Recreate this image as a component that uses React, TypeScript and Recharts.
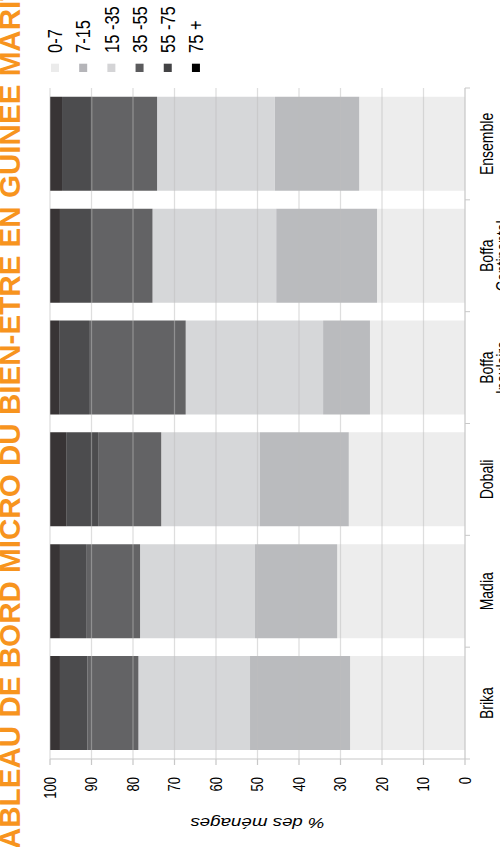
import React from 'react';
import { BarChart, Bar, XAxis, YAxis, ReferenceLine, Label } from 'recharts';

// ---- data ----
const categories = ['Brika', 'Madia', 'Dobali', 'Boffa Insulaire', 'Boffa Continental', 'Ensemble'];
const age0to7 = [27.7, 30.8, 28.0, 22.9, 21.2, 25.5];
const age7to15 = [24.1, 19.8, 21.4, 11.3, 24.3, 20.3];
const age15to35 = [26.9, 27.7, 23.8, 33.1, 29.8, 28.4];
const age35to55 = [12.3, 13.0, 15.2, 23.3, 14.4, 15.5];
const age55to75 = [6.6, 6.3, 7.7, 7.2, 7.9, 7.4];
const age75plus = [2.4, 2.4, 3.9, 2.2, 2.4, 2.9];
const seriesLabels = ['0-7', '7-15', '15 -35', '35 -55', '55 -75', '75 +'];
const valueTicks = [0, 10, 20, 30, 40, 50, 60, 70, 80, 90, 100];
const titleText = 'TABLEAU DE BORD MICRO DU BIEN-ETRE EN GUINEE MARITIME';
const yAxisTitle = '% des ménages';

const seriesValues = [age0to7, age7to15, age15to35, age35to55, age55to75, age75plus];
const seriesKeys = ['a0', 'a1', 'a2', 'a3', 'a4', 'a5'];
const barColors = ['#ededed', '#babbbe', '#d6d7d9', '#636365', '#4c4c4e', '#383435'];
const legendColors = ['#ebebeb', '#b5b5b9', '#d4d4d6', '#5b5b5d', '#434345', '#000000'];

const data = categories.map((name, i) => {
  const row: any = { name };
  seriesKeys.forEach((k, s) => {
    row[k] = seriesValues[s][i];
  });
  return row;
});

const W = 847;
const H = 400;
const STRETCH = 1.25;
const FONT = '"Liberation Sans", Arial, Helvetica, sans-serif';
const AXIS = '#c8c8c8';

function CategoryTick(props: any) {
  const { x, y, payload, index, visibleTicksCount } = props;
  const half = payload && typeof payload.offset === 'number' && payload.offset > 0 ? payload.offset : 55.9;
  const words = String(payload.value).split(' ');
  const last = index === (visibleTicksCount ?? categories.length) - 1;
  return (
    <g>
      <line x1={x - half} x2={x - half} y1={y} y2={y + 4} stroke={AXIS} />
      {last && <line x1={x + half} x2={x + half} y1={y} y2={y + 4} stroke={AXIS} />}
      <text x={x} y={y + 22.4} textAnchor="middle" fontSize={14} fill="#000">
        {words.map((w, i) => (
          <tspan key={i} x={x} dy={i === 0 ? 0 : 12.8}>
            {w}
          </tspan>
        ))}
      </text>
    </g>
  );
}

function YTitle(props: any) {
  const vb = props.viewBox || {};
  const cy = (vb.y ?? 40) + (vb.height ?? 332) / 2;
  const cx = 24.5;
  return (
    <text
      x={cx}
      y={cy}
      transform={`rotate(-90 ${cx} ${cy})`}
      textAnchor="middle"
      dominantBaseline="central"
      fontSize={15}
      fontStyle="italic"
      fill="#000"
    >
      {yAxisTitle}
    </text>
  );
}

export default function App() {
  return (
    <div
      style={{
        position: 'absolute',
        left: 0,
        top: 0,
        width: 500,
        height: 847,
        overflow: 'hidden',
        background: '#fff',
      }}
    >
      <div
        style={{
          position: 'absolute',
          left: 0,
          top: 0,
          width: W,
          height: H,
          transformOrigin: '0 0',
          transform: `translate(0px, 847px) rotate(-90deg) scale(1, ${STRETCH})`,
          fontFamily: FONT,
        }}
      >
        <BarChart
          width={W}
          height={H}
          data={data}
          margin={{ top: 40, right: 88, bottom: 0, left: 0 }}
          barCategoryGap={9}
        >
          {seriesKeys.map((k, i) => (
            <Bar key={k} dataKey={k} stackId="s" fill={barColors[i]} isAnimationActive={false} />
          ))}
          <XAxis
            dataKey="name"
            interval={0}
            tickLine={false}
            tickSize={0}
            tickMargin={0}
            height={28}
            axisLine={{ stroke: AXIS }}
            tick={<CategoryTick />}
          />
          <YAxis
            type="number"
            domain={[0, 100]}
            ticks={valueTicks}
            interval={0}
            width={88}
            tickSize={6}
            tickMargin={12}
            axisLine={{ stroke: AXIS }}
            tickLine={{ stroke: AXIS }}
            tick={{ fontSize: 13, fill: '#000' }}
          >
            <Label content={YTitle} />
          </YAxis>
          {valueTicks
            .filter((v) => v > 0)
            .map((v) => (
              <ReferenceLine key={v} y={v} stroke="#bdbdbd" strokeOpacity={0.5} />
            ))}
        </BarChart>
        <svg
          width={W}
          height={H}
          style={{ position: 'absolute', left: 0, top: 0, overflow: 'visible', pointerEvents: 'none' }}
        >
          <text
            x={-18}
            y={20}
            transform={`scale(1, ${1 / STRETCH})`}
            fontSize={29.6}
            fontWeight="bold"
            fill="#F7941E"
            fontFamily={FONT}
          >
            {titleText}
          </text>
          {seriesLabels.map((lab, i) => {
            const cy = 44 + i * 22.55;
            return (
              <g key={lab}>
                <rect x={775} y={cy - 3.2} width={8.3} height={6.4} fill={legendColors[i]} />
                <text x={794} y={cy} dominantBaseline="central" fontSize={16.5} fill="#000" fontFamily={FONT}>
                  {lab}
                </text>
              </g>
            );
          })}
        </svg>
      </div>
    </div>
  );
}
